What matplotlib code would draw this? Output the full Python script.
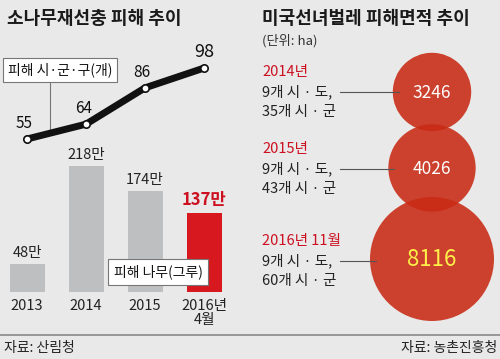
import matplotlib
matplotlib.use('Agg')
import matplotlib.pyplot as plt
from matplotlib.patches import Circle
import numpy as np

plt.rcParams['font.family'] = ['Noto Sans CJK KR', 'DejaVu Sans']

# Left panel data: pine wilt disease
years = ['2013', '2014', '2015', '2016년\n4월']
districts = [55, 64, 86, 98]          # 피해 시·군·구(개)
trees = [48, 218, 174, 137]           # 피해 나무(그루), 만

# Right panel data: lycorma (미국선녀벌레)
periods = ['2014년', '2015년', '2016년 11월']
sido = [9, 9, 9]
sigun = [35, 43, 60]
area = [3246, 4026, 8116]             # ha

W, H = 500, 359
BG = '#e9e9e9'
GREY_BAR = '#bdbfc1'
RED = '#d7191f'
RED_TXT = '#cc1020'

fig = plt.figure(figsize=(W / 100, H / 100), dpi=100, facecolor=BG)


def px_axes(x0, y0, x1, y1):
    # pixel box (top-left origin) -> axes
    ax = fig.add_axes([x0 / W, 1 - y1 / H, (x1 - x0) / W, (y1 - y0) / H])
    ax.set_facecolor('none')
    ax.axis('off')
    return ax


# overlay in pixel coords for decorations
deco = px_axes(0, 0, W, H)
deco.set_xlim(0, W)
deco.set_ylim(H, 0)
deco.plot([0, W], [335, 335], color='#8a8a8a', lw=1.2)

deco.text(7, 18, '소나무재선충 피해 추이', fontsize=13, fontweight='bold', va='center', ha='left', color='#1a1a1a')
deco.text(262, 18, '미국선녀벌레 피해면적 추이', fontsize=13, fontweight='bold', va='center', ha='left', color='#1a1a1a')
deco.text(262, 41, '(단위: ha)', fontsize=9.5, va='center', ha='left', color='#333333')
deco.text(4, 348, '자료: 산림청', fontsize=10, va='center', ha='left', color='#222222')
deco.text(497, 348, '자료: 농촌진흥청', fontsize=10, va='center', ha='right', color='#222222')

# ---- bar chart ----
xpos = np.arange(len(years))
axb = px_axes(0, 130, 231, 292)
px_per_unit = 0.578
axb.set_xlim(-27 / 59, (231 - 27) / 59)
axb.set_ylim(0, 162 / px_per_unit)
colors = [GREY_BAR] * 3 + [RED]
axb.bar(xpos, trees, width=35 / 59, color=colors)
for i, v in enumerate(trees):
    last = i == len(trees) - 1
    axb.annotate(f'{v}만', (xpos[i], v), xytext=(0, 3), textcoords='offset points',
                 ha='center', va='bottom', fontsize=12 if last else 10.5,
                 color=RED_TXT if last else '#222222', fontweight='bold' if last else 'normal')
    axb.annotate(years[i], (xpos[i], 0), xytext=(0, -5), textcoords='offset points',
                 ha='center', va='top', fontsize=10.5, color='#222222', linespacing=1.0)

# ---- line chart ----
axl = px_axes(0, 40, 231, 150)
axl.set_xlim(-27 / 59, (231 - 27) / 59)
axl.set_ylim(55 - 11 / 1.65, 55 + 99 / 1.65)
axl.plot(xpos, districts, color='#111111', lw=5, solid_capstyle='round', zorder=2)
axl.scatter(xpos, districts, s=28, facecolor='white', edgecolor='#111111', lw=1.2, zorder=3)
for i, v in enumerate(districts):
    axl.annotate(str(v), (xpos[i], v), xytext=(-2 if i < 3 else 0, 5), textcoords='offset points',
                 ha='center', va='bottom', fontsize=13 if i == 3 else 11, color='#111111')

# legend boxes, on top of the bars
top = px_axes(0, 0, W, H)
top.set_xlim(0, W)
top.set_ylim(H, 0)
deco.plot([50, 50], [83, 131], color='#777777', lw=0.8)
top.text(60, 70, '피해 시·군·구(개)', fontsize=10, ha='center', va='center', color='#111111',
         bbox=dict(boxstyle='square,pad=0.35', fc='white', ec='#777777', lw=0.8))
top.text(158, 272, '피해 나무(그루)', fontsize=10, ha='center', va='center', color='#111111',
         bbox=dict(boxstyle='square,pad=0.4', fc='white', ec='#777777', lw=0.8))

# ---- bubble chart ----
axc = px_axes(250, 0, 500, 335)
axc.set_xlim(250, 500)
axc.set_ylim(335, 0)
axc.set_aspect('equal')
k = 62 / np.sqrt(max(area))
centers_y = [92, 168, 259]
label_y = [72, 149, 241]
for i in range(len(area)):
    r = k * np.sqrt(area[i])
    axc.add_patch(Circle((432, centers_y[i]), r, fc='#c92a14', ec='none', alpha=0.88, zorder=2))
    big = i == len(area) - 1
    axc.text(432, centers_y[i] + 1, f'{area[i]}', fontsize=16 if big else 12.5,
             color='#fff04a' if big else 'white', ha='center', va='center', zorder=4)
    axc.text(262, label_y[i], periods[i], fontsize=10.5, color=RED_TXT, ha='left', va='center')
    axc.text(262, label_y[i] + 20, f'{sido[i]}개 시 · 도,', fontsize=10.5, color='#222222',
             ha='left', va='center')
    axc.text(262, label_y[i] + 40, f'{sigun[i]}개 시 · 군', fontsize=10.5, color='#222222',
             ha='left', va='center')
    x_end = 432 - r + 6
    axc.plot([340, x_end], [label_y[i] + 20, label_y[i] + 20], color='#555555', lw=0.8, zorder=3)

fig.savefig('out.png', dpi=100, facecolor=BG)
